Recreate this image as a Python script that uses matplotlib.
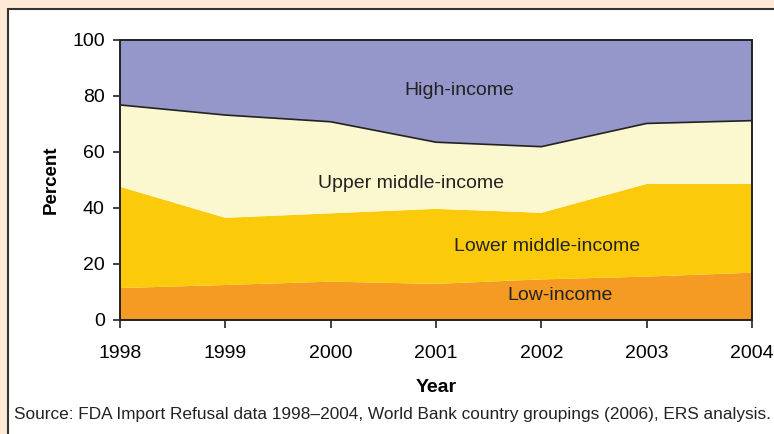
import numpy as np
import matplotlib
matplotlib.use('Agg')
import matplotlib.pyplot as plt
from matplotlib.patches import Rectangle

plt.rcParams['font.family'] = ['Liberation Sans', 'DejaVu Sans']

years = [1998, 1999, 2000, 2001, 2002, 2003, 2004]
# shares in percent (bottom to top)
low_income = [11.4, 12.5, 13.7, 12.9, 14.5, 15.5, 16.9]
lower_middle = [36.2, 24.0, 24.4, 26.8, 23.8, 33.1, 31.7]
upper_middle = [29.2, 36.7, 32.7, 23.8, 23.6, 21.6, 22.6]
high_income = [23.2, 26.8, 29.2, 36.5, 38.1, 29.8, 28.8]

names = ['Low-income', 'Lower middle-income', 'Upper middle-income', 'High-income']
colors = ['#F59A23', '#FBCB0B', '#FBF7CF', '#9596C9']

fig = plt.figure(figsize=(7.74, 4.34), dpi=100)
fig.patch.set_facecolor('#FDE9D6')

# white panel with dark border
panel = Rectangle((8/774, -0.1), 1.2, 1 - 9/434 + 0.1, transform=fig.transFigure,
                  facecolor='white', edgecolor='#333333', linewidth=1.5, zorder=-5)
fig.patches.append(panel)

ax = fig.add_axes([120/774, 1 - 320/434, (752 - 120)/774, (320 - 40)/434])
ax.set_zorder(1)

series = np.array([low_income, lower_middle, upper_middle, high_income])
cum = np.cumsum(series, axis=0)
base = np.zeros(len(years))
for i in range(len(series)):
    ax.fill_between(years, base, cum[i], facecolor=colors[i], edgecolor='none', zorder=1)
    base = cum[i]

# dark line between upper middle and high income
ax.plot(years, cum[2], color='#222222', linewidth=1.2, zorder=2)

ax.set_xlim(1998, 2004)
ax.set_ylim(0, 100)
ax.set_xticks(years)
ax.set_yticks([0, 20, 40, 60, 80, 100])
ax.tick_params(axis='both', labelsize=14, length=5, width=1.2, color='#222222')
ax.tick_params(axis='x', length=6, pad=12)
ax.tick_params(axis='y', pad=6)
for s in ax.spines.values():
    s.set_color('#222222')
    s.set_linewidth(1.4)

ax.set_xlabel('Year', fontsize=14, fontweight='bold', labelpad=12)
ax.set_ylabel('Percent', fontsize=13.5, fontweight='bold', labelpad=9)

ax.text(2001.22, 82.1, 'High-income', fontsize=14, ha='center', va='center', color='#222222')
ax.text(2000.76, 48.9, 'Upper middle-income', fontsize=14, ha='center', va='center', color='#222222')
ax.text(2002.05, 26.4, 'Lower middle-income', fontsize=14, ha='center', va='center', color='#222222')
ax.text(2002.18, 8.6, 'Low-income', fontsize=14, ha='center', va='center', color='#222222')

fig.text(14/774, 1 - 415/434,
         'Source: FDA Import Refusal data 1998\u20132004, World Bank country groupings (2006), ERS analysis.',
         fontsize=12.4, ha='left', va='center', color='#222222')

fig.savefig('out.png', dpi=100, facecolor=fig.get_facecolor())
